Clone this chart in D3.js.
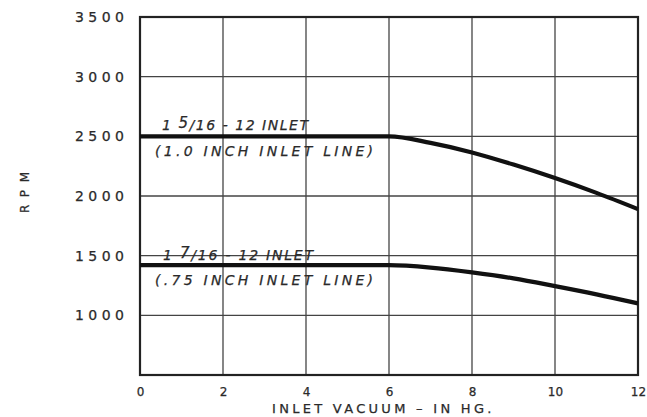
<!DOCTYPE html>
<html><head><meta charset="utf-8">
<script src="https://cdn.jsdelivr.net/npm/d3@7"></script>
<style>
html,body{margin:0;padding:0;background:#fff;}
svg{display:block;}
text{font-family:"DejaVu Sans",sans-serif;fill:#2a2a2a;stroke:#2a2a2a;stroke-width:0.25px;}
</style></head>
<body>
<script>
// ---- data ----
const xTicks = [0, 2, 4, 6, 8, 10, 12];
const yTicks = [1000, 1500, 2000, 2500, 3000, 3500];
const yTickLabels = ["1000", "1500", "2000", "2500", "3000", "3500"];
const vacuum = [0, 6, 7, 8, 9, 10, 11, 12];
const rpmLarge = [2500, 2500, 2445, 2365, 2263, 2150, 2026, 1890];
const rpmSmall = [1420, 1420, 1400, 1360, 1310, 1245, 1176, 1100];
const xTitle = "INLET  VACUUM \u2013 IN  HG.";
const yTitle = "RPM";

const W = 647, H = 417;
const m = {left: 140, right: 638, top: 17, bottom: 375};
const svg = d3.select("body").append("svg").attr("width", W).attr("height", H);

const x = d3.scaleLinear().domain([0, 12]).range([m.left, m.right]);
const y = d3.scaleLinear().domain([500, 3500]).range([m.bottom, m.top]);

// fit a text element's width by letter spacing
function fit(sel, target) {
  const node = sel.node();
  const w = node.getComputedTextLength();
  const n = node.textContent.length;
  sel.style("letter-spacing", ((target - w) / (n - 1)) + "px");
}

// gridlines
const grid = svg.append("g").attr("stroke", "#444").attr("stroke-width", 1.3);
grid.selectAll(".vx").data(xTicks.slice(1, -1)).join("line")
  .attr("x1", d => x(d)).attr("x2", d => x(d)).attr("y1", m.top).attr("y2", m.bottom);
grid.selectAll(".hy").data(yTicks.slice(0, -1)).join("line")
  .attr("y1", d => y(d)).attr("y2", d => y(d)).attr("x1", m.left).attr("x2", m.right);

// frame
svg.append("rect").attr("x", m.left).attr("y", m.top)
  .attr("width", m.right - m.left).attr("height", m.bottom - m.top)
  .attr("fill", "none").attr("stroke", "#222").attr("stroke-width", 2.2);

// y axis labels
const yAxis = d3.axisLeft(y).tickValues(yTicks).tickSize(0).tickPadding(15)
  .tickFormat((d, i) => yTickLabels[i]);
const gy = svg.append("g").attr("transform", `translate(${m.left},0)`).call(yAxis);
gy.select(".domain").remove();
gy.selectAll("text").style("font-size", "14px").attr("fill", "#333")
  .attr("text-anchor", "start").attr("x", -65)
  .each(function() { fit(d3.select(this), 49); });

// x axis labels
const xAxis = d3.axisBottom(x).tickValues(xTicks).tickSize(0).tickPadding(12);
const gx = svg.append("g").attr("transform", `translate(0,${m.bottom})`).call(xAxis);
gx.select(".domain").remove();
gx.selectAll("text").style("font-size", "12px").attr("fill", "#333");

const xt = svg.append("text").attr("x", 272).attr("y", 413)
  .style("font-size", "13px").text(xTitle);
fit(xt, 226);
const yt = svg.append("text").attr("transform", "translate(29,213) rotate(-90)")
  .style("font-size", "12px").text(yTitle);
fit(yt, 41);

// curves
const line = d3.line().x(d => x(d[0])).y(d => y(d[1])).curve(d3.curveMonotoneX);
[rpmLarge, rpmSmall].forEach(s => {
  svg.append("path").datum(vacuum.map((v, i) => [v, s[i]]))
    .attr("d", line).attr("fill", "none").attr("stroke", "#111").attr("stroke-width", 4.2);
});

// annotations
function label(xp, yp, parts, width) {
  const t = svg.append("text").attr("x", xp).attr("y", yp)
    .style("font-size", "14px").style("font-style", "italic");
  parts.forEach(p => {
    const ts = t.append("tspan").text(p.t);
    if (p.dy) ts.attr("dy", p.dy);
    if (p.fs) ts.style("font-size", p.fs);
  });
  fit(t, width);
}
label(162, 130, [{t: "1 "}, {t: "5", dy: -2, fs: "15px"}, {t: "/16 - 12 INLET", dy: 2}], 146);
label(155, 156, [{t: "(1.0 INCH INLET LINE)"}], 218);
label(163, 260, [{t: "1 "}, {t: "7", dy: -2, fs: "15px"}, {t: "/16 - 12 INLET", dy: 2}], 150);
label(155, 285, [{t: "(.75 INCH INLET LINE)"}], 218);
</script>
</body></html>
